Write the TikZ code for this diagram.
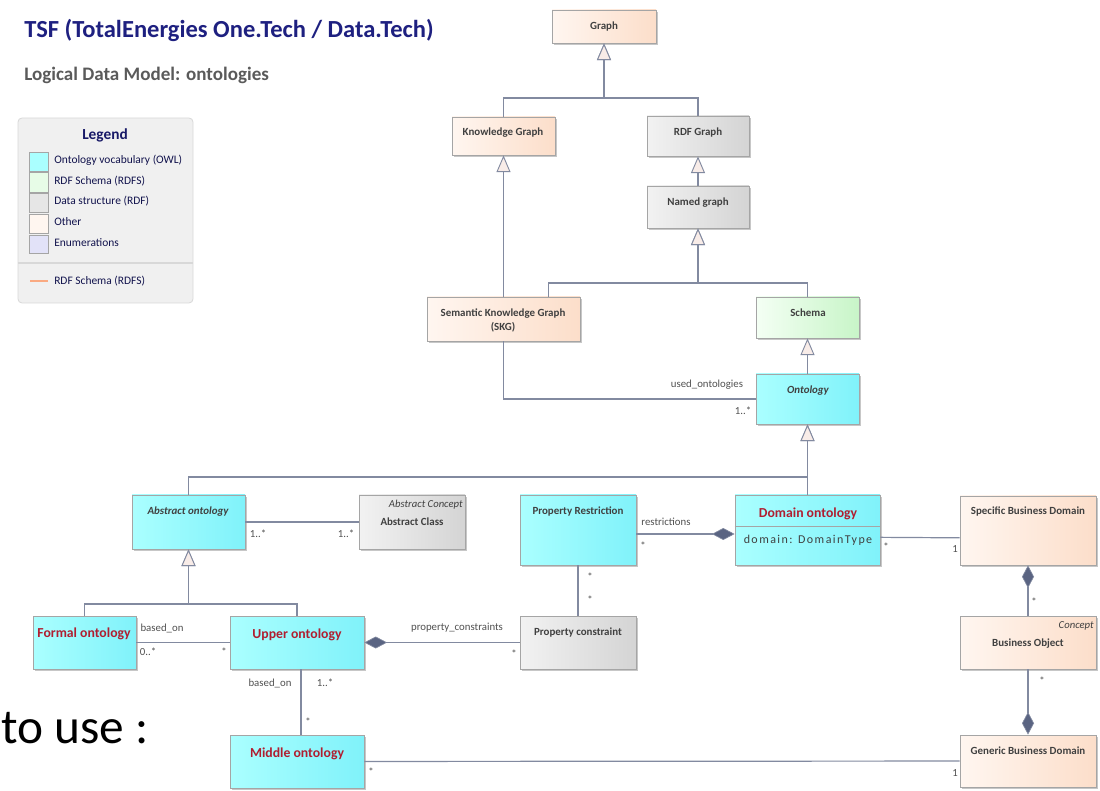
\documentclass[tikz,border=0pt]{standalone}
\usepackage{fontspec}
\setmainfont{Carlito}
\usetikzlibrary{arrows.meta,positioning,fit,shadows}

\definecolor{titleblue}{RGB}{30,32,128}
\definecolor{subgray}{RGB}{90,90,90}
\definecolor{boxtext}{RGB}{64,64,64}
\definecolor{roletext}{RGB}{80,80,80}
\definecolor{namered}{RGB}{176,30,48}
\definecolor{umlline}{RGB}{130,138,160}
\definecolor{diafill}{RGB}{90,100,130}
\definecolor{trifill}{RGB}{248,236,232}
\definecolor{boxborder}{RGB}{165,165,165}
\definecolor{owlL}{RGB}{170,255,255}
\definecolor{owlR}{RGB}{128,242,250}
\definecolor{rdfL}{RGB}{242,242,242}
\definecolor{rdfR}{RGB}{212,212,212}
\definecolor{rdfsL}{RGB}{244,255,244}
\definecolor{rdfsR}{RGB}{200,245,200}
\definecolor{othL}{RGB}{255,246,240}
\definecolor{othR}{RGB}{252,222,202}
\definecolor{enumc}{RGB}{226,226,248}
\definecolor{legendbg}{RGB}{240,240,240}
\definecolor{legendline}{RGB}{216,216,216}
\definecolor{rdfsline}{RGB}{250,170,130}

\tikzset{
  box/.style={draw=boxborder, line width=0.6pt, inner sep=0pt,
    drop shadow={shadow xshift=1.8pt, shadow yshift=-1.8pt, fill=black, opacity=0.22}},
  owl/.style={box, left color=owlL, right color=owlR},
  rdf/.style={box, left color=rdfL, right color=rdfR},
  rdfs/.style={box, left color=rdfsL, right color=rdfsR},
  other/.style={box, left color=othL, right color=othR},
  clsname/.style={font=\fontsize{8.2}{10.5}\selectfont\bfseries, text=boxtext, align=center, inner sep=0pt},
  redname/.style={font=\fontsize{10.3}{12}\selectfont\bfseries, text=namered, inner sep=0pt},
  stereo/.style={font=\fontsize{8}{9}\selectfont\itshape, text=boxtext, inner sep=0pt},
  role/.style={font=\fontsize{8.1}{10}\selectfont, text=roletext, inner sep=0pt},
  swatch/.style={draw=boxborder, line width=0.5pt, inner sep=0pt},
  legtext/.style={font=\fontsize{8.6}{10}\selectfont, text=titleblue!60!black, anchor=west, inner sep=0pt},
  gen/.style={draw=umlline, line width=0.9pt,
    -{Triangle[length=12.5pt, width=10.5pt, fill=trifill, line width=0.7pt]}},
  assoc/.style={draw=umlline, line width=0.9pt},
  comp/.style={draw=umlline, line width=0.9pt,
    -{Diamond[length=17pt, width=9pt, fill=diafill, line width=0.5pt]}},
}

\begin{document}
\begin{tikzpicture}[x=0.75pt, y=-0.75pt]
  \useasboundingbox (0,0) rectangle (1100,791);

  % Title
  \node[anchor=base west, inner sep=0pt, text=titleblue, font=\fontsize{18.4}{20}\selectfont\bfseries] (title) at (24,38) {TSF (TotalEnergies One.Tech / Data.Tech)};
  \node[anchor=base west, inner sep=0pt, text=subgray, font=\fontsize{14.3}{16}\selectfont\bfseries] (subtitle) at (24,81) {Logical Data Model: ontologies};
  \node[anchor=base west, inner sep=0pt, font=\fontsize{37}{40}\selectfont] (touse) at (1,743) {to use :};

  % Legend
  \node[fit={(18,118) (193,303)}, inner sep=0pt, rounded corners=3pt, fill=legendbg, draw=legendline, line width=0.6pt] (legend) {};
  \node[font=\fontsize{11.5}{13}\selectfont\bfseries, text=titleblue!80!black, inner sep=0pt] (legend-t) at (105,135) {Legend};
  \node[swatch, fill=owlL, fit={(29,152) (48,171)}] (lg1) {};
  \node[swatch, fill=rdfsL!70!rdfsR, fit={(29,172) (48,192)}] (lg2) {};
  \node[swatch, fill=rdfL!60!rdfR, fit={(29,193) (48,212)}] (lg3) {};
  \node[swatch, fill=othL, fit={(29,214) (48,233)}] (lg4) {};
  \node[swatch, fill=enumc, fit={(29,235) (48,253)}] (lg5) {};
  \node[legtext] (lg1-t) at (54,160) {Ontology vocabulary (OWL)};
  \node[legtext] (lg2-t) at (54,181) {RDF Schema (RDFS)};
  \node[legtext] (lg3-t) at (54,201) {Data structure (RDF)};
  \node[legtext] (lg4-t) at (54,222) {Other};
  \node[legtext] (lg5-t) at (54,243) {Enumerations};
  \draw[legendline, line width=0.8pt] (legend.west |- 0,263) -- (legend.east |- 0,263);
  \draw[rdfsline, line width=0.8pt] (30,281) -- (48,281);
  \node[legtext] (lg6-t) at (54,281) {RDF Schema (RDFS)};

  % Boxes
  \node[other, fit={(552,10) (656,43)}] (graph) {};
  \node[other, fit={(452,117) (555,155)}] (kg) {};
  \node[rdf, fit={(647,116) (749,156)}] (rdfg) {};
  \node[rdf, fit={(647,186) (749,228)}] (named) {};
  \node[other, fit={(427,297) (580,341)}] (skg) {};
  \node[rdfs, fit={(756,297) (859,338)}] (schema) {};
  \node[owl, fit={(756,374) (859,424)}] (onto) {};
  \node[owl, fit={(132,495) (245,549)}] (absonto) {};
  \node[rdf, fit={(359,495) (465,549)}] (abscls) {};
  \node[owl, fit={(520,495) (636,565)}] (prest) {};
  \node[owl, fit={(735,495) (880,565)}] (domonto) {};
  \node[other, fit={(960,496) (1096,565)}] (specific) {};
  \node[owl, fit={(33,616) (136,669)}] (formal) {};
  \node[owl, fit={(230,616) (364,669)}] (upper) {};
  \node[rdf, fit={(520,616) (636,669)}] (pcons) {};
  \node[other, fit={(960,616) (1096,669)}] (bobj) {};
  \node[owl, fit={(230,735) (364,788)}] (middle) {};
  \node[other, fit={(960,735) (1096,787)}] (generic) {};
  \draw[boxborder, line width=0.6pt] (domonto.west |- 0,526) -- (domonto.east |- 0,526);

  % Box texts
  \node[clsname] (graph-t) at (604,27) {Graph};
  \node[clsname] (kg-t) at (503,133) {Knowledge Graph};
  \node[clsname] (rdfg-t) at (698,133) {RDF Graph};
  \node[clsname] (named-t) at (698,203) {Named graph};
  \node[clsname] (skg-t) at (503,320) {Semantic Knowledge Graph\\(SKG)};
  \node[clsname] (schema-t) at (808,313) {Schema};
  \node[clsname, font=\fontsize{8.2}{9}\selectfont\bfseries\itshape] (onto-t) at (808,391) {Ontology};
  \node[clsname, font=\fontsize{8.2}{9}\selectfont\bfseries\itshape] (absonto-t) at (188,512) {Abstract ontology};
  \node[stereo, anchor=east] (abscls-s) at (463,505) {Abstract Concept};
  \node[clsname] (abscls-t) at (412,522) {Abstract Class};
  \node[clsname] (prest-t) at (578,512) {Property Restriction};
  \node[redname] (domonto-t) at (808,514) {Domain ontology};
  \node[inner sep=0pt, text=boxtext, font=\fontsize{9}{11}\selectfont\addfontfeature{LetterSpace=12}] (domonto-a) at (808,540) {domain: DomainType};
  \node[clsname] (specific-t) at (1028,512) {Specific Business Domain};
  \node[redname] (formal-t) at (84,634) {Formal ontology};
  \node[redname] (upper-t) at (297,635) {Upper ontology};
  \node[clsname] (pcons-t) at (578,633) {Property constraint};
  \node[stereo, anchor=east] (bobj-s) at (1094,626) {Concept};
  \node[clsname] (bobj-t) at (1028,644) {Business Object};
  \node[clsname] (generic-t) at (1028,751) {Generic Business Domain};
  \node[redname] (middle-t) at (297,754) {Middle ontology};

  % Generalizations
  \coordinate (graph-j) at (graph.south |- 0,98);
  \draw[gen] (kg.north) |- (graph-j) -- (graph.south);
  \draw[gen] (rdfg.north) |- (graph-j) -- (graph.south);
  \draw[gen] (named) -- (rdfg);
  \coordinate (named-j) at (named.south |- 0,283);
  \draw[gen] ([xshift=34pt]skg.north) |- (named-j) -- (named.south);
  \draw[gen] (schema.north) |- (named-j) -- (named.south);
  \draw[gen] (kg.south |- skg.north) -- (kg.south);
  \draw[gen] (onto) -- (schema);
  \coordinate (onto-j) at (onto.south |- 0,477);
  \draw[gen] (absonto.north) |- (onto-j) -- (onto.south);
  \draw[gen] (domonto.north) -- (onto.south);
  \coordinate (abs-j) at (absonto.south |- 0,604);
  \draw[gen] (formal.north) |- (abs-j) -- (absonto.south);
  \draw[gen] (upper.north) |- (abs-j) -- (absonto.south);

  % Associations
  \draw[assoc] (skg.south) |- (onto.west);
  \node[role] (used-r) at (707,385) {used\_ontologies};
  \node[role] (used-m) at (743,411) {1..*};
  \draw[assoc] (absonto) -- (abscls);
  \node[role] (abs-m1) at (258,534) {1..*};
  \node[role] (abs-m2) at (346,534) {1..*};
  \draw[assoc] (formal) -- (upper);
  \node[role] (based-r1) at (162,628) {based\_on};
  \node[role] (based-m1) at (148,652) {0..*};
  \node[role] (based-m2) at (224,652) {*};
  \draw[assoc] (prest) -- (pcons);
  \node[role] (pc-m1) at (590,577) {*};
  \node[role] (pc-m2) at (590,600) {*};
  \draw[assoc] ([yshift=-5.5pt]domonto.east) -- ([yshift=-5.5pt]specific.west);
  \node[role] (dom-m1) at (886,547) {*};
  \node[role] (dom-m2) at (955,549) {1};
  \draw[assoc] ([xshift=3pt]upper.south) -- ([xshift=3pt]middle.north);
  \node[role] (based-r2) at (270,683) {based\_on};
  \node[role] (based-m3) at (325,683) {1..*};
  \node[role] (based-m4) at (308,722) {*};
  \draw[assoc] (middle) -- (generic);
  \node[role] (mid-m1) at (371,772) {*};
  \node[role] (mid-m2) at (955,773) {1};

  % Compositions
  \draw[comp] (pcons) -- (upper);
  \node[role] (pcons-r) at (457,628) {property\_constraints};
  \node[role] (pcons-m) at (514,654) {*};
  \draw[comp] ([yshift=-3pt]prest.east) -- ([yshift=-3pt]domonto.west);
  \node[role] (rest-r) at (666,522) {restrictions};
  \node[role] (rest-m) at (643,546) {*};
  \draw[comp] (bobj) -- (specific);
  \node[role] (bobj-m1) at (1034,602) {*};
  \draw[comp] (bobj) -- (generic);
  \node[role] (bobj-m2) at (1042,681) {*};
\end{tikzpicture}
\end{document}
